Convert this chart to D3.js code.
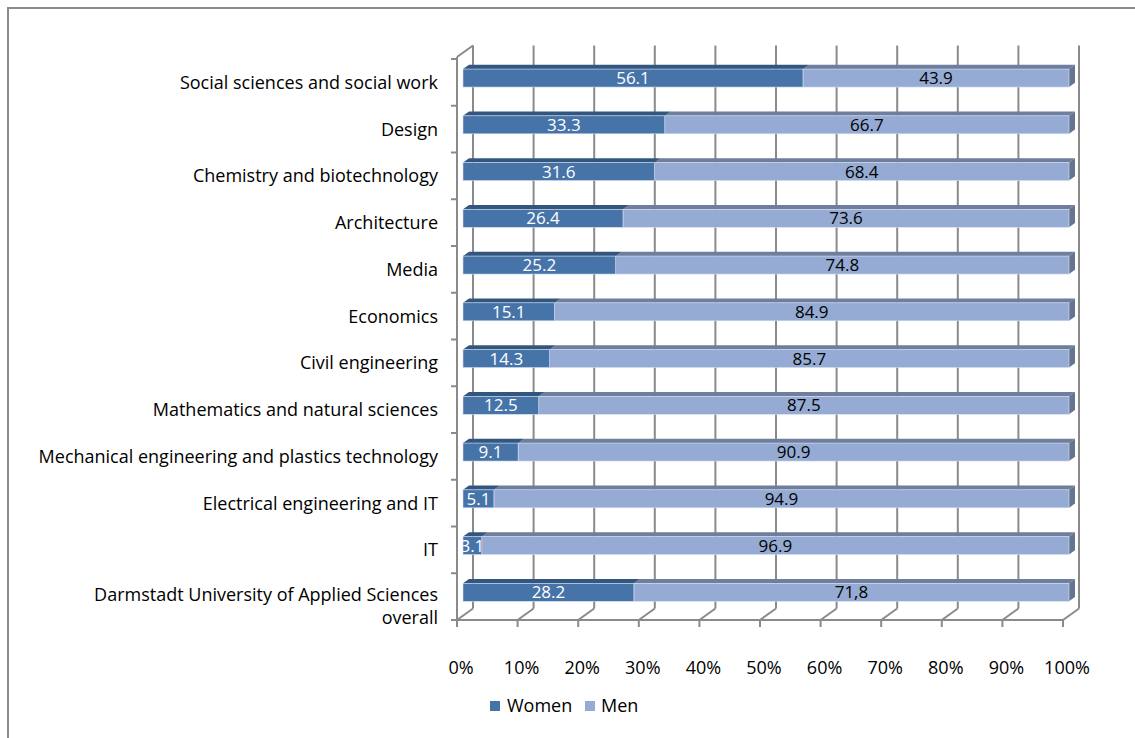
<!DOCTYPE html>
<html>
<head>
<meta charset="utf-8">
<script src="https://cdn.jsdelivr.net/npm/d3@7"></script>
<style>
  html, body { margin: 0; padding: 0; background: #ffffff; }
  svg { display: block; }
  text { font-family: "Open Sans", "Noto Sans", sans-serif; }
</style>
</head>
<body>
<svg id="chart" width="1135" height="738"></svg>
<script>
// Share of women and men per department (percent)
const categories = [
  "Social sciences and social work",
  "Design",
  "Chemistry and biotechnology",
  "Architecture",
  "Media",
  "Economics",
  "Civil engineering",
  "Mathematics and natural sciences",
  "Mechanical engineering and plastics technology",
  "Electrical engineering and IT",
  "IT",
  "Darmstadt University of Applied Sciences overall"
];
const women = [56.1, 33.3, 31.6, 26.4, 25.2, 15.1, 14.3, 12.5, 9.1, 5.1, 3.1, 28.2];
const men   = [43.9, 66.7, 68.4, 73.6, 74.8, 84.9, 85.7, 87.5, 90.9, 94.9, 96.9, 71.8];
const menLabels = ["43.9", "66.7", "68.4", "73.6", "74.8", "84.9", "85.7", "87.5", "90.9", "94.9", "96.9", "71,8"];
const ticks = [0, 10, 20, 30, 40, 50, 60, 70, 80, 90, 100];
const seriesNames = ["Women", "Men"];

const colors = {
  women: { front: "#4674a9", top: "#33567f", side: "#2f4f76" },
  men:   { front: "#95abd3", top: "#6e7e9c", side: "#65748f" },
  grid: "#8a8a8a"
};

const FS = 18;        // label font size
const FS_DATA = 17;   // value label font size

const svg = d3.select("#chart");

// Outer frame (top and left edges visible)
svg.append("path")
  .attr("d", "M8,738 L8,8 L1135,8")
  .attr("fill", "none").attr("stroke", "#8a8a8a").attr("stroke-width", 2);

// Front plane scales
const x = d3.scaleLinear().domain([0, 100]).range([457, 1063]);
const y = d3.scaleBand().domain(categories).range([59, 620])
  .paddingInner(0.615).paddingOuter(0.3075);

// 3D depth vector (front plane -> back wall)
const DX = 16, DY = -11.5;
const dA = 0.375, dB = 0.75;   // bar front / back depth fractions

const g = svg.append("g");

// Back wall gridlines
g.selectAll("line.grid").data(ticks).join("line")
  .attr("x1", d => x(d) + DX).attr("x2", d => x(d) + DX)
  .attr("y1", 57 + DY).attr("y2", 620 + DY)
  .attr("stroke", colors.grid).attr("stroke-width", 2);

// Floor diagonals at each tick
g.selectAll("line.diag").data(ticks).join("line")
  .attr("x1", d => x(d)).attr("y1", 620)
  .attr("x2", d => x(d) + DX).attr("y2", 620 + DY)
  .attr("stroke", colors.grid).attr("stroke-width", 2);

// Bottom tick marks
g.selectAll("line.tick").data(ticks).join("line")
  .attr("x1", d => x(d)).attr("x2", d => x(d))
  .attr("y1", 620).attr("y2", 627)
  .attr("stroke", colors.grid).attr("stroke-width", 2);

// Front floor edge
g.append("line").attr("x1", x(0)).attr("x2", x(100)).attr("y1", 620).attr("y2", 620)
  .attr("stroke", colors.grid).attr("stroke-width", 2);

// Left axis edge and top diagonal
g.append("line").attr("x1", x(0)).attr("x2", x(0)).attr("y1", 57).attr("y2", 620)
  .attr("stroke", colors.grid).attr("stroke-width", 2);
g.append("line").attr("x1", x(0)).attr("y1", 57).attr("x2", x(0) + DX).attr("y2", 57 + DY)
  .attr("stroke", colors.grid).attr("stroke-width", 2);

// Category boundary ticks
const bounds = d3.range(categories.length + 1).map(i => y.range()[0] + i * y.step());
g.selectAll("line.ytick").data(bounds).join("line")
  .attr("x1", x(0) - 6).attr("x2", x(0))
  .attr("y1", d => d).attr("y2", d => d)
  .attr("stroke", colors.grid).attr("stroke-width", 2);

// Bars
const rows = categories.map((c, i) => ({ c, w: women[i], m: men[i], ml: menLabels[i] }));
const bw = y.bandwidth();

function segment(sel, x0, x1, top, col, withSide) {
  const fa = [x(x0) + dA * DX, top + dA * DY];
  const fb = [x(x1) + dA * DX, top + dA * DY];
  const ba = [x(x0) + dB * DX, top + dB * DY];
  const bb = [x(x1) + dB * DX, top + dB * DY];
  sel.append("polygon")
    .attr("points", [fa, fb, bb, ba].map(p => p.join(",")).join(" "))
    .attr("fill", col.top);
  if (withSide) {
    sel.append("polygon")
      .attr("points", [fb, bb, [bb[0], bb[1] + bw], [fb[0], fb[1] + bw]].map(p => p.join(",")).join(" "))
      .attr("fill", col.side);
  }
  sel.append("rect")
    .attr("x", fa[0]).attr("y", fa[1])
    .attr("width", fb[0] - fa[0]).attr("height", bw)
    .attr("fill", col.front)
    .attr("stroke", "#d5dff0").attr("stroke-width", 0.6);
}

const bars = g.selectAll("g.bar").data(rows).join("g").attr("class", "bar");
bars.each(function(d) {
  const sel = d3.select(this);
  const top = y(d.c);
  segment(sel, d.w, d.w + d.m, top, colors.men, true);
  segment(sel, 0, d.w, top, colors.women, false);
  const cy = top + dA * DY + bw / 2;
  sel.append("text")
    .attr("x", (x(0) + x(d.w)) / 2 + dA * DX).attr("y", cy)
    .attr("dy", "0.36em").attr("text-anchor", "middle")
    .attr("font-size", FS_DATA).attr("fill", "#ffffff")
    .text(d.w.toFixed(1));
  sel.append("text")
    .attr("x", (x(d.w) + x(d.w + d.m)) / 2 + dA * DX).attr("y", cy)
    .attr("dy", "0.36em").attr("text-anchor", "middle")
    .attr("font-size", FS_DATA).attr("fill", "#000000")
    .text(d.ml);
});

// Category labels
const catLabels = svg.append("g").selectAll("text").data(categories).join("text")
  .attr("x", 438).attr("text-anchor", "end")
  .attr("font-size", FS).attr("fill", "#000");
catLabels.each(function(d) {
  const t = d3.select(this);
  const cy = y(d) + bw / 2;
  if (d === "Darmstadt University of Applied Sciences overall") {
    t.append("tspan").attr("x", 438).attr("y", cy - 2.5).attr("dy", "0.36em")
      .text("Darmstadt University of Applied Sciences");
    t.append("tspan").attr("x", 438).attr("y", cy + 20.5).attr("dy", "0.36em")
      .text("overall");
  } else {
    t.attr("y", cy).attr("dy", "0.36em").text(d);
  }
});

// X tick labels
svg.append("g").selectAll("text").data(ticks).join("text")
  .attr("x", d => x(d) + 4).attr("y", 668).attr("dy", "0.36em")
  .attr("text-anchor", "middle").attr("font-size", FS).attr("fill", "#000")
  .text(d => d + "%");

// Legend
const legend = svg.append("g");
const legendItems = [
  { name: seriesNames[0], color: colors.women.front, x: 490, tx: 507 },
  { name: seriesNames[1], color: colors.men.front, x: 585, tx: 601 }
];
legendItems.forEach(it => {
  legend.append("rect").attr("x", it.x).attr("y", 701).attr("width", 10).attr("height", 10)
    .attr("fill", it.color);
  legend.append("text").attr("x", it.tx).attr("y", 706).attr("dy", "0.36em")
    .attr("font-size", FS).attr("fill", "#000").text(it.name);
});
</script>
</body>
</html>
